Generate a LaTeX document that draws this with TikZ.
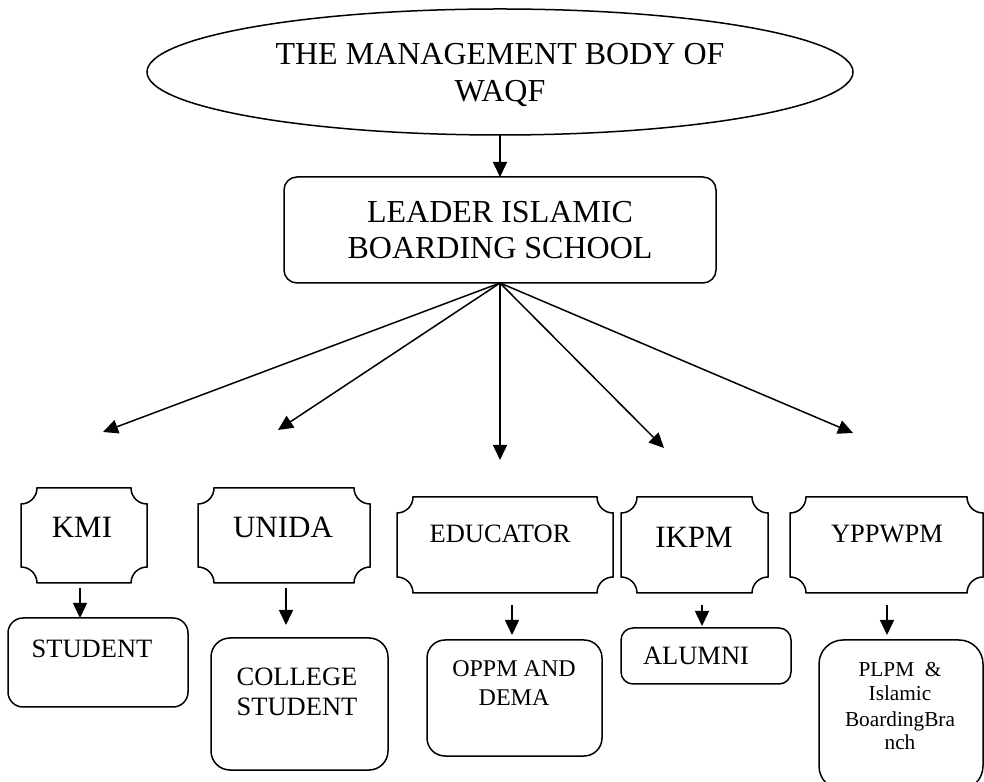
\documentclass[tikz,border=0pt]{standalone}
\usepackage{fontspec}
\setmainfont{Liberation Serif}
\usetikzlibrary{arrows.meta,shapes.geometric}
\tikzset{
  ln/.style={line width=1.5pt},
  arr/.style={ln,-{Triangle[length=15pt,width=14pt]}},
  txt/.style={inner sep=0pt, anchor=base},
  fXL/.style={font=\fontsize{32}{37}\selectfont},
  fL/.style={font=\fontsize{31}{36}\selectfont},
  fM/.style={font=\fontsize{26.5}{30}\selectfont},
  fS/.style={font=\fontsize{24}{28}\selectfont},
  fXS/.style={font=\fontsize{21.3}{24.5}\selectfont},
  shp/.style={inner sep=0pt, outer sep=0pt},
  rbox/.style={shp, draw, ln, rectangle, rounded corners=#1},
}
\newcommand\plaquedraw[1]{%
  \draw[ln] ([xshift=16pt]#1.north west) -- ([xshift=-16pt]#1.north east)
    arc[start angle=180,end angle=270,radius=16pt]
    -- ([yshift=16pt]#1.south east)
    arc[start angle=90,end angle=180,radius=16pt]
    -- ([xshift=16pt]#1.south west)
    arc[start angle=0,end angle=90,radius=16pt]
    -- ([yshift=-16pt]#1.north west)
    arc[start angle=270,end angle=360,radius=16pt] -- cycle;}
\begin{document}
\begin{tikzpicture}[x=1pt,y=1pt]
\useasboundingbox (0,0) rectangle (984,781);
\fill[white] (0,0) rectangle (984,781);
% top ellipse
\node[shp, draw, ln, ellipse, minimum width=706pt, minimum height=126pt] (top) at (500,709) {};
\node[txt, fXL] (topa) at (500,716) {THE MANAGEMENT BODY OF};
\node[txt, fXL] (topb) at (500,679) {WAQF};
% leader box
\node[rbox=13pt, minimum width=432pt, minimum height=106pt] (lead) at (500,551) {};
\node[txt, fXL] (leada) at (500,558) {LEADER ISLAMIC};
\node[txt, fXL] (leadb) at (500,522) {BOARDING SCHOOL};
\draw[arr] (top.south) -- (lead.north);
% fan arrow ends
\coordinate (e1) at (103,349);
\coordinate (e2) at (278,351);
\coordinate (e3) at (500,321);
\coordinate (e4) at (664,333);
\coordinate (e5) at (853,348);
\foreach \e in {e1,e2,e3,e4,e5} \draw[arr] (lead.south) -- (\e);
% plaques
\node[shp, minimum width=126pt, minimum height=95pt] (kmi) at (84,245.5) {};
\plaquedraw{kmi}
\node[txt, fL] (kmit) at (82,243) {KMI};
\node[shp, minimum width=172pt, minimum height=95pt] (unida) at (284,245.5) {};
\plaquedraw{unida}
\node[txt, fL] (unidat) at (283,243) {UNIDA};
\node[shp, minimum width=216pt, minimum height=96pt] (edu) at (505,236) {};
\plaquedraw{edu}
\node[txt, fM] (edut) at (500,238) {EDUCATOR};
\node[shp, minimum width=147pt, minimum height=96pt] (ikpm) at (694.5,236) {};
\plaquedraw{ikpm}
\node[txt, fL] (ikpmt) at (694,233) {IKPM};
\node[shp, minimum width=193pt, minimum height=96pt] (ypp) at (886.5,236) {};
\plaquedraw{ypp}
\node[txt, fM] (yppt) at (887,238) {YPPWPM};
% lower boxes
\node[rbox=15pt, minimum width=180pt, minimum height=89pt] (stu) at (98,118.5) {};
\node[txt, fM] (stut) at (92,123) {STUDENT};
\node[rbox=19pt, minimum width=177pt, minimum height=132pt] (col) at (299.5,77) {};
\node[txt, fM] (cola) at (297,95) {COLLEGE};
\node[txt, fM] (colb) at (297,65) {STUDENT};
\node[rbox=18pt, minimum width=175pt, minimum height=116pt] (oppm) at (514.5,83) {};
\node[txt, fS] (oppma) at (514,104) {OPPM AND};
\node[txt, fS] (oppmb) at (514,75) {DEMA};
\node[rbox=12pt, minimum width=170pt, minimum height=56pt] (alu) at (706,125) {};
\node[txt, fM] (alut) at (696,116) {ALUMNI};
\node[rbox=24pt, minimum width=164pt, minimum height=150pt] (plpm) at (901,66) {};
\node[txt, fXS] (plpma) at (900,104) {PLPM\ \ \&};
\node[txt, fXS] (plpmb) at (900,80) {Islamic};
\node[txt, fXS] (plpmc) at (900,55) {BoardingBra};
\node[txt, fXS] (plpmd) at (900,31) {nch};
% small arrows
\coordinate (s1) at (80,193);
\coordinate (s2) at (286,193);
\coordinate (s3) at (512,176);
\coordinate (s4) at (702,176);
\coordinate (s5) at (887,176);
\coordinate (t2) at (286,156);
\coordinate (t3) at (512,146);
\coordinate (t4) at (702,155);
\coordinate (t5) at (887,146);
\draw[arr] (s1) -- (s1 |- stu.north);
\draw[arr] (s2) -- (t2);
\draw[arr] (s3) -- (t3);
\draw[arr] (s4) -- (t4);
\draw[arr] (s5) -- (t5);
\end{tikzpicture}
\end{document}
